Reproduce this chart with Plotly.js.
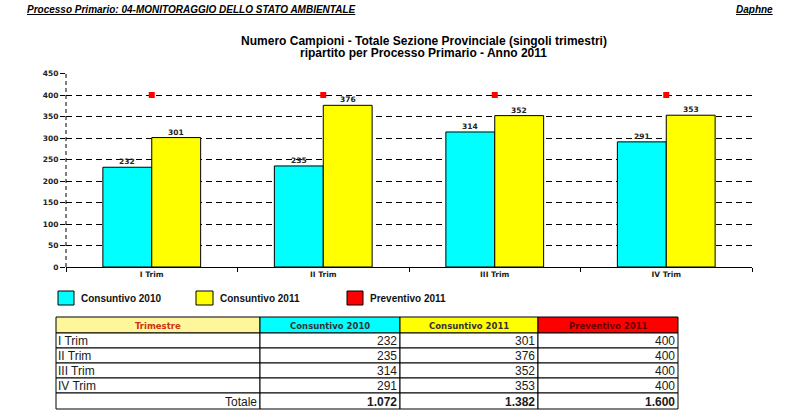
<!DOCTYPE html>
<html>
<head>
<meta charset="utf-8">
<script src="https://cdn.plot.ly/plotly-3.0.1.min.js"></script>
<style>
html,body{margin:0;padding:0;background:#fff;}
#chart{width:797px;height:419px;}
</style>
</head>
<body>
<div id="chart"></div>
<script>
// ---- data ----
const categories = ['I Trim', 'II Trim', 'III Trim', 'IV Trim'];
const consuntivo2010 = [232, 235, 314, 291];
const consuntivo2011 = [301, 376, 352, 353];
const preventivo2011 = [400, 400, 400, 400];
const seriesNames = ['Consuntivo 2010', 'Consuntivo 2011', 'Preventivo 2011'];
const seriesColors = ['#00FFFF', '#FFFF00', '#FF0000'];
const yTicks = [0, 50, 100, 150, 200, 250, 300, 350, 400, 450];
const tableHeader = ['Trimestre'].concat(seriesNames);
const totalLabel = 'Totale';

// ---- helpers ----
function fmtIt(n) { return String(n).replace(/\B(?=(\d{3})+(?!\d))/g, '.'); }
function sum(a) { return a.reduce((s, v) => s + v, 0); }

const W = 797, H = 419;
const px = x => x / W;
const py = y => 1 - y / H;

const xDomainPx = [66, 752];
const bargap = 0.43;
const halfBarPx = ((xDomainPx[1] - xDomainPx[0]) / categories.length) * (1 - bargap) / 4;

const tickFont = {family: 'DejaVu Sans', size: 7.5, color: '#222', weight: 'bold'};
const labelFont = {family: 'DejaVu Sans', size: 7.5, color: '#222', weight: 'bold'};

const traces = [
  {
    type: 'bar', name: seriesNames[0], x: categories, y: consuntivo2010,
    marker: {color: seriesColors[0], line: {color: '#000', width: 1}},
    showlegend: false
  },
  {
    type: 'bar', name: seriesNames[1], x: categories, y: consuntivo2011,
    marker: {color: seriesColors[1], line: {color: '#000', width: 1}},
    showlegend: false
  },
  {
    type: 'scatter', mode: 'markers', name: seriesNames[2], x: categories, y: preventivo2011,
    marker: {symbol: 'square', size: 6, color: seriesColors[2]},
    showlegend: false, cliponaxis: false
  }
];

const shapes = [
  {type: 'line', xref: 'x domain', yref: 'y domain', x0: 0, x1: 0, y0: 0, y1: 1,
   line: {color: '#000', width: 1, dash: '4px,3px'}, layer: 'above'}
];
const annotations = [
  {text: 'Processo Primario: 04-MONITORAGGIO DELLO STATO AMBIENTALE', xref: 'paper', yref: 'paper',
   x: px(25), y: py(9), xanchor: 'left', yanchor: 'middle', showarrow: false,
   font: {family: 'Liberation Sans, Arial', size: 10, color: '#000', weight: 'bold', style: 'italic', lineposition: 'under'}},
  {text: 'Daphne', xref: 'paper', yref: 'paper',
   x: px(775), y: py(9), xanchor: 'right', yanchor: 'middle', showarrow: false,
   font: {family: 'Liberation Sans, Arial', size: 10, color: '#000', weight: 'bold', style: 'italic', lineposition: 'under'}},
  {text: 'ripartito per Processo Primario - Anno 2011', xref: 'paper', yref: 'paper',
   x: px(424), y: py(53), xanchor: 'center', yanchor: 'middle', showarrow: false,
   font: {family: 'Liberation Sans, Arial', size: 12, color: '#000', weight: 'bold'}}
];

// ---- bar value labels (positioned through the axes) ----
[consuntivo2010, consuntivo2011].forEach((series, s) => {
  series.forEach((v, i) => {
    annotations.push({text: String(v), xref: 'x', yref: 'y', x: categories[i], y: v,
      xshift: (s === 0 ? -1 : 1) * halfBarPx, yshift: 0,
      xanchor: 'center', yanchor: 'bottom', showarrow: false, borderpad: 0,
      font: labelFont});
  });
});

// ---- manual legend ----
const legendBoxes = [[58, 74], [196, 213], [347, 363]];
seriesNames.forEach((name, i) => {
  shapes.push({type: 'rect', xref: 'paper', yref: 'paper',
    x0: px(legendBoxes[i][0]), x1: px(legendBoxes[i][1]), y0: py(305), y1: py(291),
    fillcolor: seriesColors[i], line: {color: '#000', width: 1}});
  annotations.push({text: '<b>' + name + '</b>', xref: 'paper', yref: 'paper',
    x: px(legendBoxes[i][1] + 5), y: py(298), xanchor: 'left', yanchor: 'middle', showarrow: false,
    font: {family: 'Liberation Sans, Arial', size: 10, color: '#111'}});
});

// ---- table (drawn with shapes + annotations) ----
const colX = [56, 260, 400, 538, 678];
const rowY = [317, 333, 348, 363, 378, 393, 409];
const headerFills = ['#FFF59A'].concat(seriesColors);
const headerFontColors = ['#D03010', '#333333', '#333333', '#6a0000'];
const columns = [
  categories.concat([totalLabel]),
  consuntivo2010.map(String).concat([fmtIt(sum(consuntivo2010))]),
  consuntivo2011.map(String).concat([fmtIt(sum(consuntivo2011))]),
  preventivo2011.map(String).concat([fmtIt(sum(preventivo2011))])
];
for (let c = 0; c < 4; c++) {
  shapes.push({type: 'rect', xref: 'paper', yref: 'paper',
    x0: px(colX[c]), x1: px(colX[c + 1]), y0: py(rowY[1]), y1: py(rowY[0]),
    fillcolor: headerFills[c], line: {color: '#000', width: 1}});
  annotations.push({text: '<b>' + tableHeader[c] + '</b>', xref: 'paper', yref: 'paper',
    x: px((colX[c] + colX[c + 1]) / 2), y: py((rowY[0] + rowY[1]) / 2 + 0.5),
    xanchor: 'center', yanchor: 'middle', showarrow: false,
    font: {family: 'DejaVu Sans', size: 8.5, color: headerFontColors[c]}});
  for (let r = 0; r < columns[c].length; r++) {
    const isTotal = r === columns[c].length - 1;
    shapes.push({type: 'rect', xref: 'paper', yref: 'paper',
      x0: px(colX[c]), x1: px(colX[c + 1]), y0: py(rowY[r + 2]), y1: py(rowY[r + 1]),
      fillcolor: '#FFFFFF', line: {color: '#000', width: 1}});
    const leftAlign = (c === 0 && !isTotal);
    annotations.push({
      text: (isTotal && c > 0) ? '<b>' + columns[c][r] + '</b>' : columns[c][r],
      xref: 'paper', yref: 'paper',
      x: leftAlign ? px(colX[c] + 0.5) : px(colX[c + 1] - 2.5),
      y: py((rowY[r + 1] + rowY[r + 2]) / 2 + 0.5),
      xanchor: leftAlign ? 'left' : 'right', yanchor: 'middle', showarrow: false,
      borderpad: 0,
      font: {family: 'Liberation Sans, Arial', size: 12, color: '#1a1a1a'}});
  }
}

const layout = {
  width: W, height: H,
  margin: {l: 0, r: 0, t: 0, b: 0},
  paper_bgcolor: '#fff', plot_bgcolor: '#fff',
  title: {text: '<b>Numero Campioni - Totale Sezione Provinciale (singoli trimestri)</b>',
          x: px(424), xanchor: 'center', xref: 'paper', y: py(40.5), yanchor: 'middle', yref: 'paper',
          font: {family: 'Liberation Sans, Arial', size: 12, color: '#000'}},
  barmode: 'group', bargap: bargap, bargroupgap: 0,
  showlegend: false,
  xaxis: {
    domain: [px(xDomainPx[0]), px(xDomainPx[1])],
    type: 'category',
    showline: true, linecolor: '#000', linewidth: 1,
    ticks: 'outside', tickson: 'boundaries', ticklen: 4, tickcolor: '#000', tickwidth: 1,
    showgrid: false, zeroline: false,
    tickfont: tickFont, fixedrange: true
  },
  yaxis: {
    domain: [py(267), py(73.5)],
    range: [0, 450], tickvals: yTicks, ticktext: yTicks.map(String),
    showline: false, ticks: 'outside', ticklen: 5, tickcolor: '#000', tickwidth: 1,
    showgrid: true, gridcolor: '#000', gridwidth: 1, griddash: '6px,4px',
    zeroline: false, tickfont: tickFont, fixedrange: true
  },
  shapes: shapes,
  annotations: annotations
};

Plotly.newPlot('chart', traces, layout, {displayModeBar: false, staticPlot: true});
</script>
</body>
</html>
